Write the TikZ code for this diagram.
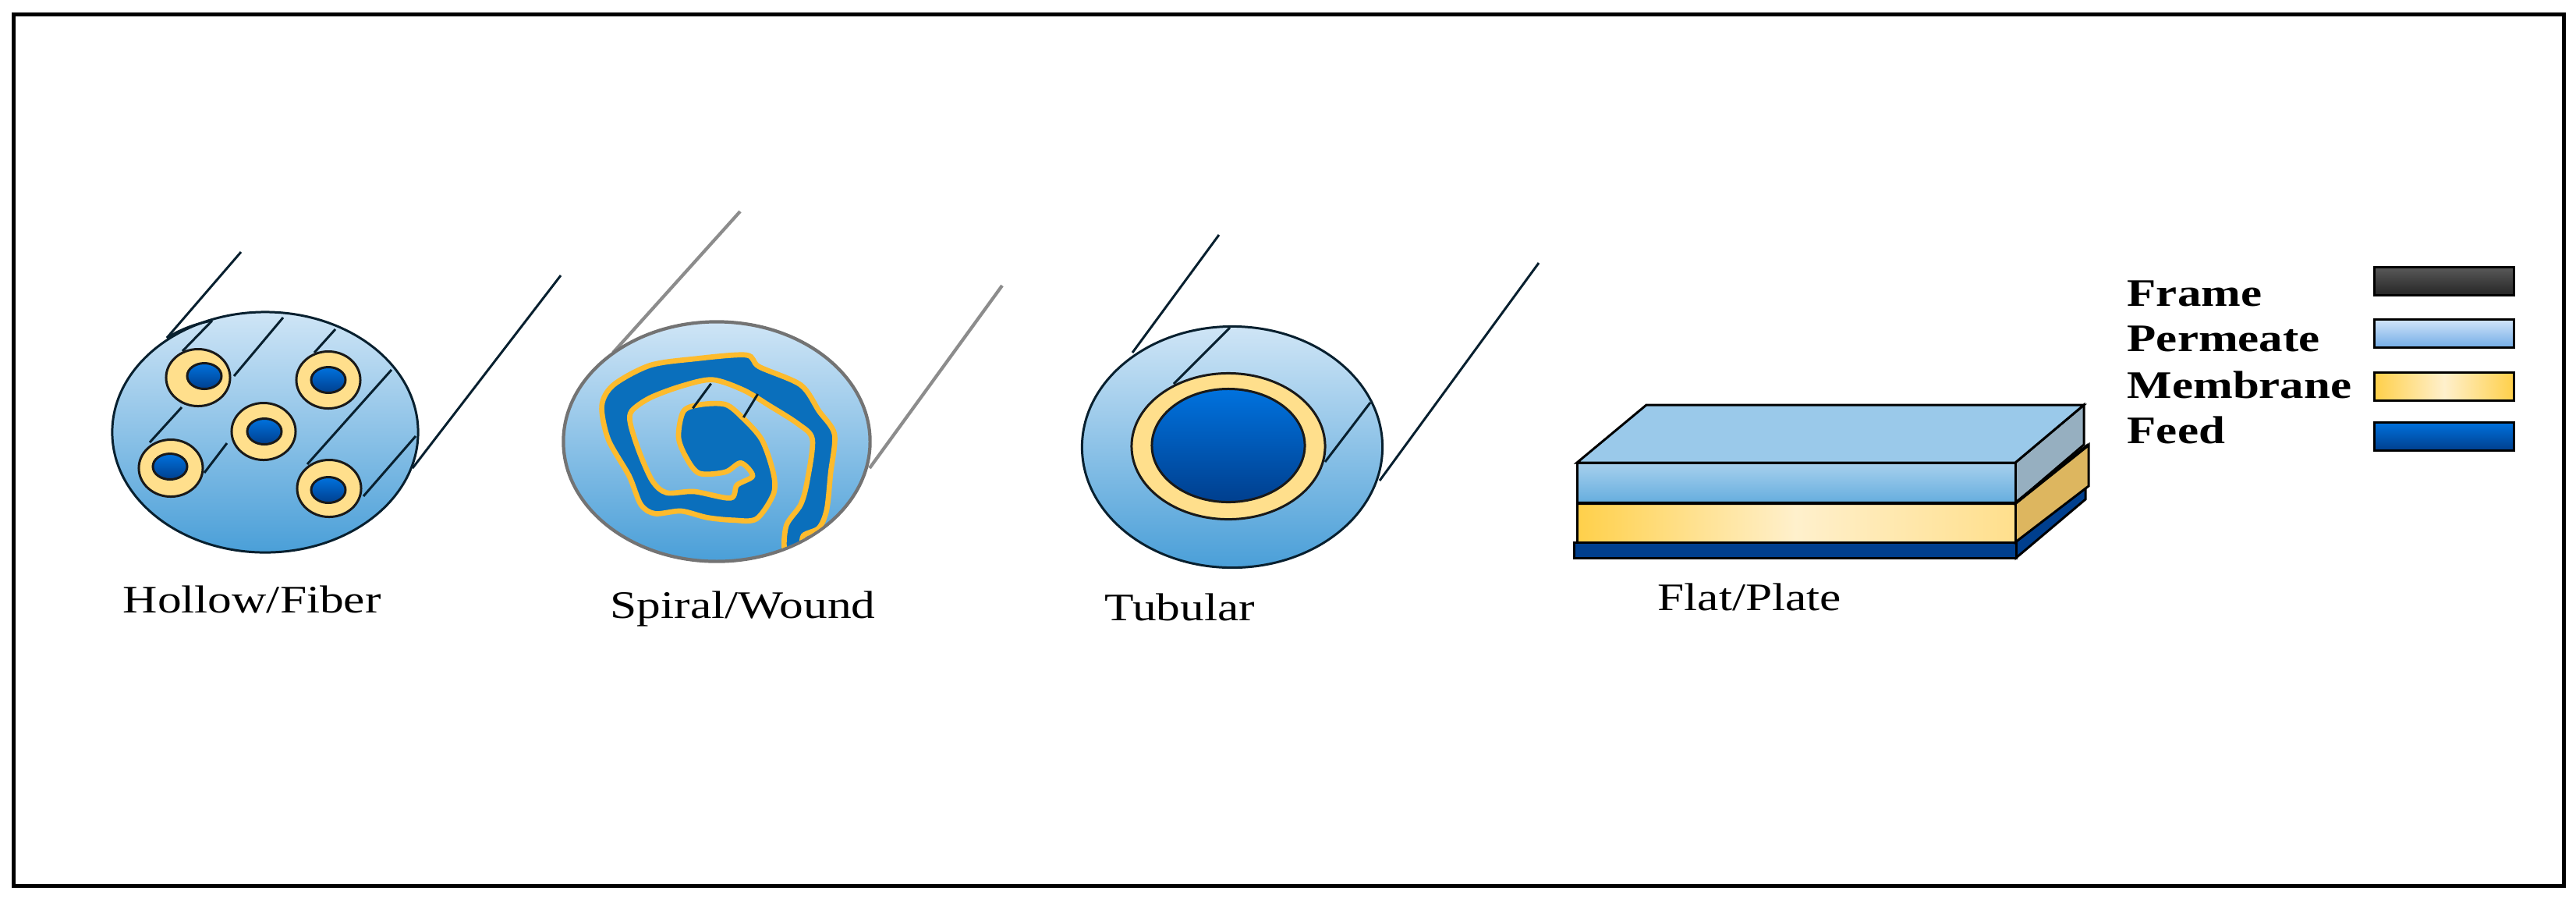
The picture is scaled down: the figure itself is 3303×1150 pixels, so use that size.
\documentclass[tikz,border=0pt]{standalone}
\usepackage{xcolor}
\usepackage{fontspec}
\usetikzlibrary{shapes.geometric}
\newfontfamily\lblfont[FakeStretch=1.23]{Liberation Serif}
\newfontfamily\keyfont[FakeStretch=1.22]{Liberation Serif Bold}
\definecolor{shellTop}{HTML}{CFE5F6}
\definecolor{shellBot}{HTML}{4A9FD8}
\definecolor{coreTop}{HTML}{0072DE}
\definecolor{coreBot}{HTML}{003F8E}
\definecolor{ringFill}{HTML}{FFDF8C}
\definecolor{ringDeep}{HTML}{FFD04A}
\definecolor{ringPale}{HTML}{FFF0CC}
\definecolor{sideGold}{HTML}{DDB65F}
\definecolor{edgeDark}{HTML}{08202F}
\definecolor{spiralBlue}{HTML}{0A6FBC}
\definecolor{spiralEdge}{HTML}{FDBB2D}
\definecolor{permTop}{HTML}{D2E5FA}
\definecolor{permBot}{HTML}{74ADE6}

\begin{document}
\begin{tikzpicture}[x=0.01cm,y=-0.01cm]
    \tikzstyle{shell}=[ellipse,inner sep=0pt,top color=shellTop,bottom color=shellBot,draw=edgeDark,line width=0.85pt]
    \tikzstyle{ring}=[ellipse,inner sep=0pt,fill=ringFill,draw=black!90,line width=0.85pt]
    \tikzstyle{core}=[ellipse,inner sep=0pt,top color=coreTop,bottom color=coreBot,draw=black!90,line width=0.85pt]
    \tikzstyle{fiber ring}=[ring,minimum width=0.82cm,minimum height=0.73cm]
    \tikzstyle{fiber core}=[core,minimum width=0.44cm,minimum height=0.33cm]
    \tikzstyle{wire}=[draw=edgeDark,line width=0.85pt]
    \tikzstyle{grey wire}=[draw=black!45,line width=1.2pt]
    \tikzstyle{tag}=[inner sep=0pt,anchor=base west,font=\lblfont\fontsize{14.2}{16}\selectfont]
    \tikzstyle{key}=[inner sep=0pt,anchor=base west,font=\keyfont\fontsize{14.2}{16}\selectfont]
    \tikzstyle{swatch}=[rectangle,inner sep=0pt,minimum width=1.78cm,minimum height=0.36cm,draw=black,line width=0.85pt]

    \useasboundingbox (0,0) rectangle (3303,1150);
    \draw[line width=1.42pt] (17.5,18) rectangle (3287.5,1135.5);

    % hollow fiber
    \draw[wire] (309,323) -- (214,433);
    \draw[wire] (719,353) -- (529,600);
    \node[shell,minimum width=3.92cm,minimum height=3.08cm] (H) at (340,554) {};
    \foreach \xa/\ya/\xb/\yb in {272/411/234/450, 363/407/300/482, 233/522/192/567, 291/568/262/606, 430/422/403/452, 502/474/394/595, 533/559/466/636}
        \draw[wire] (\xa,\ya) -- (\xb,\yb);
    \draw[wire] (214,433) .. controls (235,420) and (255,414) .. (272,411);
    \foreach \n/\xr/\yr/\xc/\yc in {1/254/484/262/482, 2/421/487/421/487, 3/338/553/339/553, 4/219/600/218/598, 5/422/626/421/628} {
        \node[fiber ring] (HR-\n) at (\xr,\yr) {};
        \node[fiber core] (HC-\n) at (\xc,\yc) {};
    }
    \node[tag] (H-tag) at (157,785) {Hollow/Fiber};

    % spiral wound
    \draw[grey wire] (949,271) -- (786,452);
    \draw[grey wire] (1285,366) -- (1115,600);
    \node[shell,draw=black!55,line width=1.2pt,minimum width=3.93cm,minimum height=3.07cm] (S) at (919,566) {};
    \begin{scope}
        \clip (919,566) ellipse [x radius=195,y radius=151.5];
        \begin{scope}[shift={(740,420)},x=0.01cm/3,y=-0.01cm/3]
            \draw[fill=spiralBlue,draw=spiralEdge,line width=1.9pt] plot[smooth cycle,tension=0.5] coordinates {
                (800,860) (805,760) (860,680) (885,590) (905,430) (850,370) (740,300) (640,240) (520,200)
                (400,225) (280,270) (210,320) (205,370) (240,480) (290,590) (345,635) (450,630) (590,655)
                (615,605) (675,570) (630,520) (570,555) (470,560) (420,500) (390,420) (410,320) (480,295)
                (570,295) (630,340) (710,430) (755,560) (755,640) (690,735) (600,740) (500,730) (400,705)
                (300,715) (245,680) (200,570) (120,430) (95,300) (140,220) (280,145) (450,120) (650,105)
                (700,150) (860,220) (930,320) (990,410) (975,560) (960,700) (930,770) (870,800) (860,860)};
            \draw[wire] (515,215) -- (445,310);
            \draw[wire] (695,255) -- (640,345);
        \end{scope}
    \end{scope}
    \node[tag] (S-tag) at (782,792) {Spiral/Wound};

    % tubular
    \draw[wire] (1563,301) -- (1452,452);
    \draw[wire] (1973,337) -- (1769,616);
    \node[shell,minimum width=3.85cm,minimum height=3.09cm] (T) at (1580,573) {};
    \draw[wire] (1577,420) -- (1505,492);
    \draw[wire] (1757,516) -- (1699,592);
    \node[ring,minimum width=2.48cm,minimum height=1.87cm] (TR) at (1575,572) {};
    \node[core,minimum width=1.96cm,minimum height=1.45cm] (TC) at (1575,571) {};
    \node[tag] (T-tag) at (1416,795) {Tubular};

    % flat plate
    \draw[fill=coreBot,line width=0.85pt] (2584,695) -- (2674,623) -- (2674,640) -- (2585,715) -- cycle;
    \draw[fill=coreBot,line width=0.85pt] (2018,695) rectangle (2585,715);
    \draw[fill=sideGold,line width=0.85pt] (2584,645) -- (2678,570) -- (2678,623) -- (2584,695) -- cycle;
    \draw[left color=ringDeep,right color=ringFill,middle color=ringPale,line width=0.85pt] (2022,645) rectangle (2584,695);
    \draw[fill=shellBot!60!black!50!white,line width=0.85pt] (2584,593) -- (2672,519) -- (2672,570) -- (2584,645) -- cycle;
    \draw[fill=shellTop!60!shellBot,line width=0.85pt] (2022,593) -- (2111,519) -- (2672,519) -- (2584,593) -- cycle;
    \draw[top color=shellTop!70!shellBot,bottom color=shellBot!80!shellTop,line width=0.85pt] (2022,593) rectangle (2584,645);
    \draw[line width=1.2pt] (2022,645) -- (2584,645) -- (2678,570);
    \node[tag] (F-tag) at (2125,782) {Flat/Plate};

    % legend
    \node[key] (K-1) at (2727,392) {Frame};
    \node[key] (K-2) at (2727,450) {Permeate};
    \node[key] (K-3) at (2727,510) {Membrane};
    \node[key] (K-4) at (2727,568) {Feed};
    \node[swatch,top color=black!65,bottom color=black!85] (B-1) at (3134,360) {};
    \node[swatch,top color=permTop,bottom color=permBot] (B-2) at (3134,427) {};
    \node[swatch,left color=ringDeep,right color=ringDeep,middle color=ringPale] (B-3) at (3134,495) {};
    \node[swatch,top color=coreTop,bottom color=coreBot] (B-4) at (3134,559) {};
\end{tikzpicture}
\end{document}
